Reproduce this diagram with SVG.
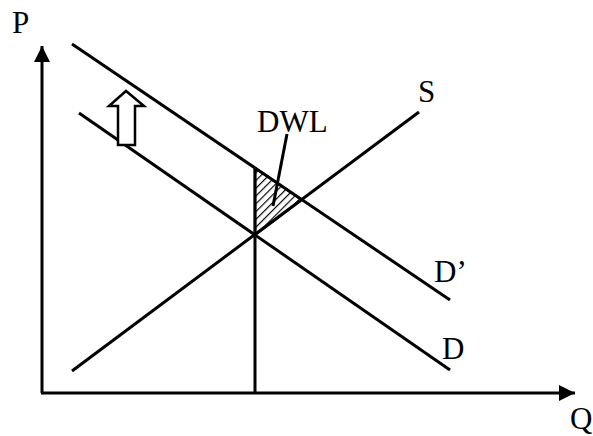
<svg xmlns="http://www.w3.org/2000/svg" width="593" height="436" viewBox="0 0 593 436">
  <style>
    .ln { stroke: #000; stroke-width: 3; fill: none; stroke-linecap: butt; }
    .lbl { font-family: "Liberation Serif", "Times New Roman", serif; font-size: 31px; fill: #000; }
  </style>
  <defs>
    <marker id="ah" viewBox="0 0 16 16" refX="16" refY="8" markerWidth="16" markerHeight="16" markerUnits="userSpaceOnUse" orient="auto">
      <path d="M0,0 L16,8 L0,16 Z" fill="#000"/>
    </marker>
    <pattern id="hatch" patternUnits="userSpaceOnUse" width="5.5" height="5.5" patternTransform="rotate(45)">
      <line x1="0" y1="0" x2="0" y2="5.5" stroke="#000" stroke-width="2.3"/>
    </pattern>
  </defs>
  <rect width="593" height="436" fill="#fff"/>

  <g id="connectors">
    <line id="y-axis" class="ln" x1="42" y1="393" x2="42" y2="46" marker-end="url(#ah)"/>
    <line id="x-axis" class="ln" x1="41" y1="393" x2="575" y2="393" marker-end="url(#ah)"/>
    <line id="qline" class="ln" x1="255" y1="167" x2="255" y2="393"/>
    <line id="dwl-leader" class="ln" x1="287" y1="134" x2="273" y2="206"/>
  </g>

  <g id="dwl-area">
    <polygon points="255,168 255,235 301.7,199.7" fill="url(#hatch)" stroke="#000" stroke-width="2.5"/>
  </g>

  <g id="supply">
    <line class="ln" x1="72" y1="371" x2="419" y2="112"/>
  </g>
  <g id="demand">
    <line class="ln" x1="79" y1="113" x2="450" y2="370"/>
  </g>
  <g id="demand-new">
    <line class="ln" x1="72" y1="44" x2="450" y2="300"/>
  </g>

  <g id="shift-arrow">
    <path d="M118,145 L118,106 L109,106 L126,91 L144,106 L135,106 L135,145 Z" fill="#fff" stroke="#000" stroke-width="2.5" stroke-linejoin="miter"/>
  </g>

  <g id="labels">
    <text class="lbl" x="12" y="33">P</text>
    <text class="lbl" x="570" y="429">Q</text>
    <text class="lbl" x="418" y="102">S</text>
    <text class="lbl" x="257" y="132">DWL</text>
    <text class="lbl" x="434" y="282">D’</text>
    <text class="lbl" x="442" y="359">D</text>
  </g>
</svg>
